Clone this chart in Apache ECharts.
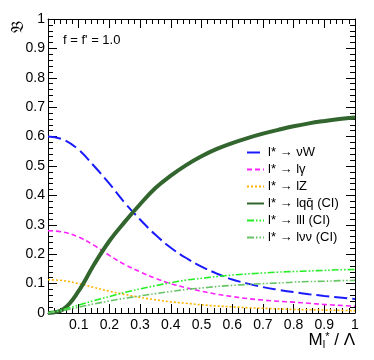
<!DOCTYPE html>
<html>
<head>
<meta charset="utf-8">
<script src="https://cdn.jsdelivr.net/npm/echarts@6/dist/echarts.min.js"></script>
<style>
  html, body { margin: 0; padding: 0; background: #fff; }
  #chart { width: 374px; height: 360px; }
</style>
</head>
<body>
<div id="chart"></div>
<script>
// x values (M*/Lambda)
const xs = [0, 0.05, 0.1, 0.15, 0.2, 0.25, 0.3, 0.35, 0.4, 0.45, 0.5,
  0.55, 0.6, 0.65, 0.7, 0.75, 0.8, 0.85, 0.9, 0.95, 1.0];
// branching fractions
const nuW = [0.60, 0.59, 0.555, 0.50, 0.44, 0.375, 0.318, 0.266, 0.222, 0.187, 0.158,
  0.134, 0.114, 0.100, 0.088, 0.079, 0.071, 0.064, 0.058, 0.053, 0.048];
const lGamma = [0.28, 0.275, 0.258, 0.23, 0.196, 0.165, 0.14, 0.118, 0.1, 0.086, 0.074,
  0.064, 0.056, 0.049, 0.044, 0.04, 0.037, 0.033, 0.029, 0.026, 0.023];
const lZ = [0.113, 0.11, 0.1, 0.087, 0.074, 0.063, 0.053, 0.045, 0.038, 0.033, 0.028,
  0.024, 0.021, 0.018, 0.016, 0.014, 0.012, 0.011, 0.01, 0.009, 0.008];
const lqq = [0, 0.013, 0.075, 0.165, 0.245, 0.31, 0.37, 0.425, 0.467, 0.503, 0.533,
  0.558, 0.578, 0.595, 0.61, 0.623, 0.635, 0.645, 0.653, 0.66, 0.665];
const lll = [0, 0.012, 0.027, 0.042, 0.056, 0.07, 0.082, 0.093, 0.103, 0.112, 0.118,
  0.124, 0.129, 0.133, 0.136, 0.139, 0.141, 0.143, 0.145, 0.147, 0.148];
const lnunu = [0, 0.009, 0.02, 0.031, 0.041, 0.05, 0.058, 0.066, 0.073, 0.08, 0.085,
  0.09, 0.094, 0.097, 0.1, 0.102, 0.105, 0.107, 0.108, 0.11, 0.111];

const names = ["l* \u2192 \u03bdW", "l* \u2192 l\u03b3", "l* \u2192 lZ",
  "l* \u2192 lqq\u0304 (CI)", "l* \u2192 lll (CI)", "l* \u2192 l\u03bd\u03bd (CI)"];

function pts(ys) {
  return xs.map((x, i) => [x, ys[i]]);
}

let chart = echarts.init(document.getElementById("chart"));
const font = "Liberation Sans";

const axisBase = {
  type: "value",
  min: 0,
  max: 1,
  interval: 0.1,
  axisLine: { show: true, onZero: false, lineStyle: { color: "#000", width: 1 } },
  axisTick: { show: true, inside: true, length: 9, lineStyle: { color: "#000" } },
  minorTick: { show: true, splitNumber: 5, length: 5, lineStyle: { color: "#000" } },
  splitLine: { show: false },
};

let option = {
  animation: false,
  textStyle: { fontFamily: font },
  grid: { left: 48, right: 19, top: 19, bottom: 47 },
  legend: {
    orient: "vertical",
    left: 246,
    top: 146,
    padding: 0,
    itemWidth: 17,
    itemHeight: 14,
    itemGap: 4,
    itemStyle: { opacity: 0 },
    textStyle: { fontFamily: font, fontSize: 13, color: "#000", padding: [0, 0, 0, -1] },
    data: names,
  },
  xAxis: [
    Object.assign({}, axisBase, {
      position: "bottom",
      axisLabel: {
        margin: 5, fontSize: 14, color: "#000", fontFamily: font,
        formatter: v => (v === 0 ? "" : String(+v.toFixed(1))),
      },
    }),
    Object.assign({}, axisBase, { position: "top", axisLabel: { show: false } }),
  ],
  yAxis: [
    Object.assign({}, axisBase, {
      position: "left",
      axisLabel: {
        margin: 3, fontSize: 14, color: "#000", fontFamily: font,
        formatter: v => String(+v.toFixed(1)),
      },
    }),
    Object.assign({}, axisBase, { position: "right", axisLabel: { show: false } }),
  ],
  graphic: [
    {
      type: "text", left: 63, top: 34,
      style: { text: "f = f' = 1.0", fontSize: 13, fontFamily: font, fill: "#000" },
    },
    {
      type: "text", x: 10, y: 33, rotation: Math.PI / 2,
      style: { text: "\ud835\udd05", fontSize: 17, fontFamily: "DejaVu Sans", fill: "#000" },
    },
    {
      type: "text", right: 19, top: 331,
      style: {
        text: "M{sub|l}{sup|*} / \u039b",
        fontSize: 17, fontFamily: font, fill: "#000",
        rich: {
          sub: { fontSize: 11, fontFamily: font, verticalAlign: "bottom", padding: [8, 0, 0, 0] },
          sup: { fontSize: 11, fontFamily: font, verticalAlign: "top", padding: [0, 0, 6, 0] },
        },
      },
    },
  ],
  series: [
    { name: names[0], data: pts(nuW), color: "#1a1aff",
      lineStyle: { width: 2, type: [13, 5] } },
    { name: names[1], data: pts(lGamma), color: "#ff22ff",
      lineStyle: { width: 1.6, type: [5, 3] } },
    { name: names[2], data: pts(lZ), color: "#ffb400",
      lineStyle: { width: 1.6, type: [2, 2] } },
    { name: names[3], data: pts(lqq), color: "#33662f",
      lineStyle: { width: 4, type: "solid" } },
    { name: names[4], data: pts(lll), color: "#22ee22",
      lineStyle: { width: 1.6, type: [7, 2, 1.5, 2, 1.5, 2] } },
    { name: names[5], data: pts(lnunu), color: "#66c466",
      lineStyle: { width: 1.6, type: [7, 2, 1.5, 2, 1.5, 2] } },
  ].map(s => Object.assign({
    type: "line", smooth: 0.4, showSymbol: false, symbol: "none",
    xAxisIndex: 0, yAxisIndex: 0,
  }, s)),
};

chart.setOption(option);
</script>
</body>
</html>
